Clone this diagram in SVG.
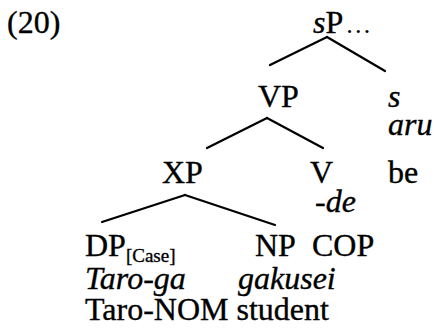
<svg xmlns="http://www.w3.org/2000/svg" width="436" height="332" viewBox="0 0 436 332" font-family="'Liberation Serif', 'Times New Roman', 'DejaVu Serif', serif">
<style>
text{font-family:'Liberation Serif','Times New Roman','DejaVu Serif',serif;font-size:32px;fill:#000;stroke:#000;stroke-width:0.35}
.i{font-style:italic}
.sub{font-size:19px}
line{stroke:#000;stroke-width:2.3;stroke-linecap:round}
</style>
<rect width="436" height="332" fill="#fff"/>
<text x="7" y="33">(20)</text>
<g id="sP"><text x="313" y="33"><tspan class="i">s</tspan>P<tspan font-size="26" dx="2" stroke-width="0">…</tspan></text></g>
<g id="VP"><text x="258" y="107">VP</text></g>
<g id="s"><text x="388" y="107" class="i">s</text><text x="388" y="135" class="i">aru</text><text x="388" y="183">be</text></g>
<g id="XP"><text x="162" y="183">XP</text></g>
<g id="V"><text x="310" y="183">V</text><text x="315" y="212" class="i">-de</text></g>
<g id="DP"><text x="85" y="256">DP<tspan class="sub" dy="6">[Case]</tspan></text><text x="85" y="289" class="i">Taro-ga</text></g>
<g id="NP"><text x="255" y="256">NP</text><text x="238" y="289" class="i">gakusei</text></g>
<g id="COP"><text x="312" y="256">COP</text></g>
<text x="85" y="320">Taro-NOM student</text>
<g id="connectors">
<line x1="327" y1="37" x2="270" y2="65"/>
<line x1="327" y1="37" x2="385" y2="71"/>
<line x1="267" y1="118" x2="207" y2="148"/>
<line x1="267" y1="118" x2="323" y2="148"/>
<line x1="185" y1="195" x2="102" y2="222"/>
<line x1="185" y1="195" x2="275" y2="225"/>
</g>
</svg>
